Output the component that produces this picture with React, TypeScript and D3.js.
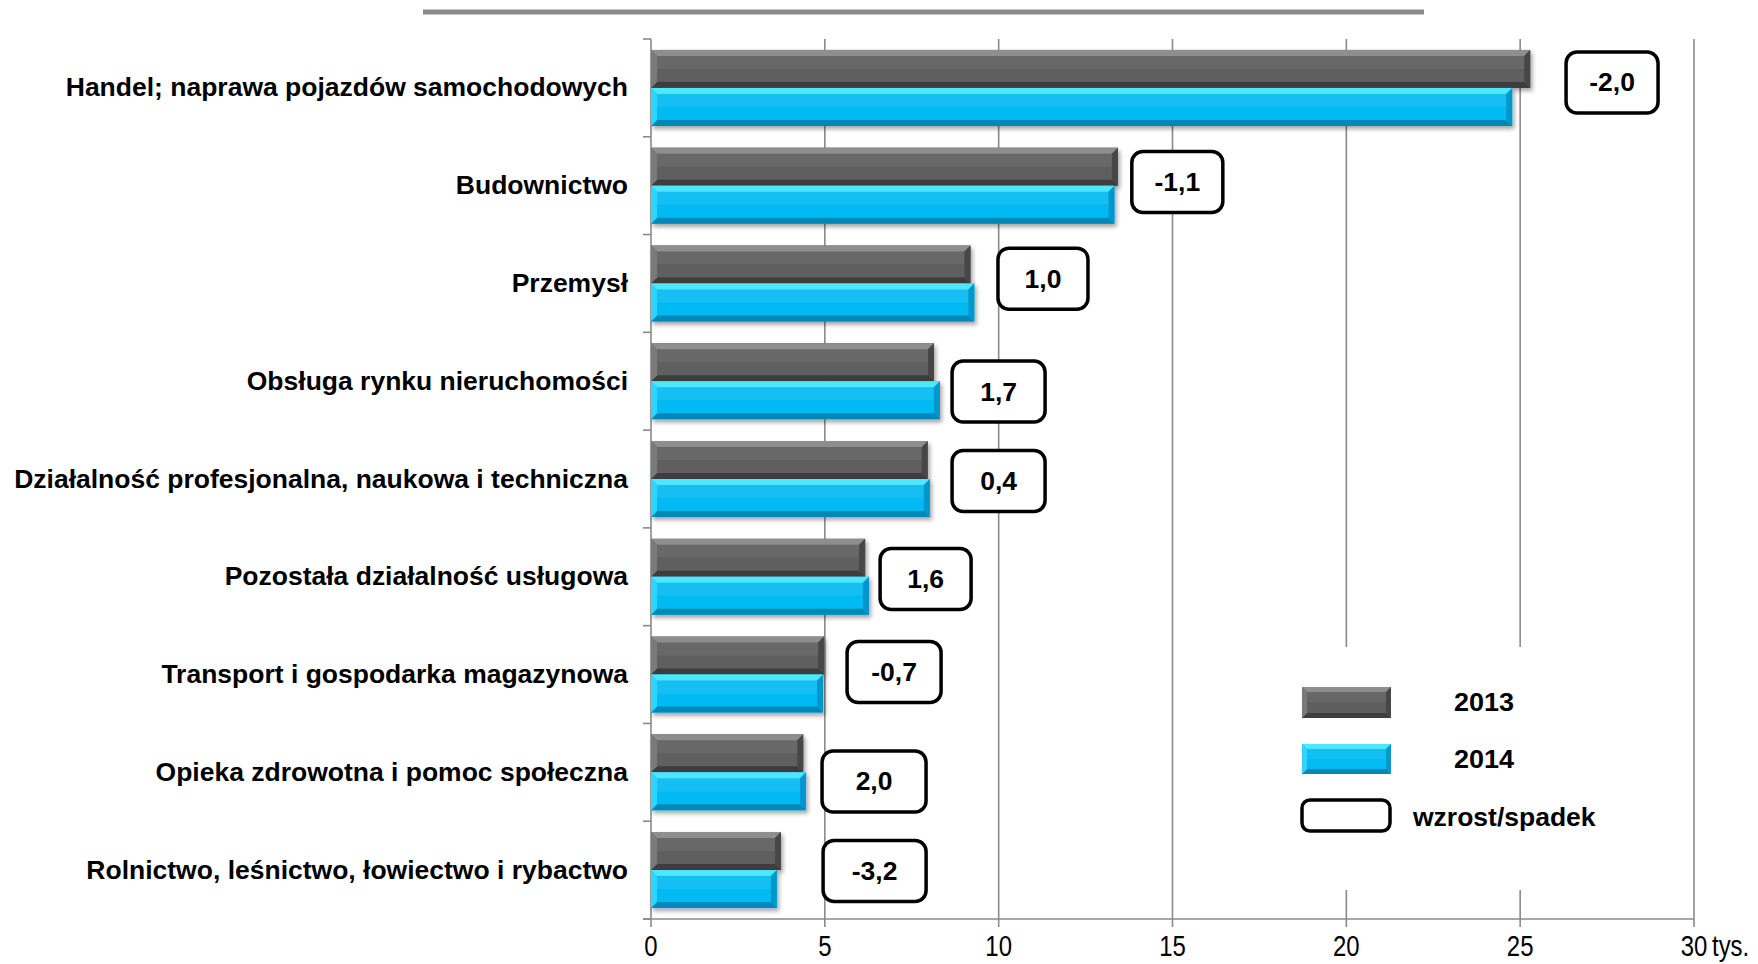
import React from "react";
import * as d3 from "d3";

const categories = [
  "Handel; naprawa pojazdów samochodowych",
  "Budownictwo",
  "Przemysł",
  "Obsługa rynku nieruchomości",
  "Działalność profesjonalna, naukowa i techniczna",
  "Pozostała działalność usługowa",
  "Transport i gospodarka magazynowa",
  "Opieka zdrowotna i pomoc społeczna",
  "Rolnictwo, leśnictwo, łowiectwo i rybactwo",
];
const values2013 = [25.29, 13.43, 9.19, 8.14, 7.96, 6.16, 4.98, 4.38, 3.74];
const values2014 = [24.77, 13.33, 9.3, 8.31, 8.02, 6.27, 4.95, 4.46, 3.62];
const changeLabels = ["-2,0", "-1,1", "1,0", "1,7", "0,4", "1,6", "-0,7", "2,0", "-3,2"];
const seriesNames = ["2013", "2014"];
const xTicks = [0, 5, 10, 15, 20, 25, 30];
const unitLabel = "tys.";
const legendBoxLabel = "wzrost/spadek";

// annotation placement (data units along x, pixel nudge along y, box width)
const labelAt = [26.32, 13.83, 9.98, 8.66, 8.66, 6.59, 5.64, 4.92, 4.95];
const labelDy = [-5.4, -3.7, -4.8, 10.3, 2, 2.2, -2.6, 9.1, 0.9];
const labelW = [92, 91, 90, 93, 93, 91, 94, 104, 103];

const W = 1758;
const H = 964;
const FONT = "'Liberation Sans', Arial, Helvetica, sans-serif";
const SX = 1.06;
const GRID = "#8a8a8a";

const palettes: Record<string, any> = {
  "2013": { base: "#5e5e5e", top: "#8e8e8e", bottom: "#3e3e3e", left: "#7a7a7a", right: "#474747" },
  "2014": { base: "#04bbf3", top: "#4fe6ff", bottom: "#0589b8", left: "#33d3ff", right: "#0698cc" },
};

function BevelBar({ x, y, w, h, pal, b = 6, shadow = true }: any) {
  const x1 = x + w;
  const y1 = y + h;
  const bb = Math.min(b, w / 2, h / 2);
  return (
    <g filter={shadow ? "url(#shadow)" : undefined}>
      <rect x={x} y={y} width={w} height={h} fill={pal.base} />
      <polygon points={`${x},${y} ${x1},${y} ${x1 - bb},${y + bb} ${x + bb},${y + bb}`} fill={pal.top} />
      <polygon points={`${x},${y1} ${x1},${y1} ${x1 - bb},${y1 - bb} ${x + bb},${y1 - bb}`} fill={pal.bottom} />
      <polygon points={`${x},${y} ${x + bb},${y + bb} ${x + bb},${y1 - bb} ${x},${y1}`} fill={pal.left} />
      <polygon points={`${x1},${y} ${x1 - bb},${y + bb} ${x1 - bb},${y1 - bb} ${x1},${y1}`} fill={pal.right} />
      <rect x={x + bb} y={y + bb} width={Math.max(0, w - 2 * bb)} height={Math.max(0, h - 2 * bb) / 2} fill="#ffffff" opacity={0.06} />
    </g>
  );
}

function SText({ x, y, anchor = "start", size = 25, weight = "bold", sx = SX, sy = 1, children }: any) {
  return (
    <text
      transform={`translate(${x},${y}) scale(${sx},${sy})`}
      textAnchor={anchor}
      fontFamily={FONT}
      fontSize={size}
      fontWeight={weight}
      fill="#000"
    >
      {children}
    </text>
  );
}

export default function App() {
  const x = d3.scaleLinear().domain([0, 30]).range([651, 1694]);
  const y = d3.scaleBand<string>().domain(categories).range([39, 919]).padding(0);
  const sub = d3.scaleBand<string>().domain(seriesNames).range([0, y.step()]).paddingInner(0).paddingOuter(0.287);
  const series = [values2013, values2014];
  const boxH = 61;
  const tickY = 956;

  return (
    <svg width={W} height={H} style={{ position: "absolute", left: 0, top: 0, background: "#fff" }}>
      <defs>
        <filter id="shadow" x="-5%" y="-20%" width="110%" height="160%">
          <feDropShadow dx="2" dy="3" stdDeviation="2" floodColor="#000" floodOpacity="0.35" />
        </filter>
      </defs>
      <rect x={0} y={0} width={W} height={H} fill="#fff" />

      {/* top decorative line */}
      <rect x={423} y={9.5} width={1001} height={5} fill="#8a8a8a" />

      {/* gridlines */}
      {xTicks.slice(1).map((t) => (
        <line key={"g" + t} x1={x(t)} x2={x(t)} y1={y.range()[0]} y2={y.range()[1]} stroke={GRID} strokeWidth={1.6} />
      ))}

      {/* axes */}
      <line x1={x(0)} x2={x(0)} y1={y.range()[0]} y2={y.range()[1]} stroke={GRID} strokeWidth={1.6} />
      <line x1={x(0) - 8} x2={x(30)} y1={y.range()[1]} y2={y.range()[1]} stroke={GRID} strokeWidth={1.6} />
      {d3.range(categories.length + 1).map((i) => {
        const yy = y.range()[0] + i * y.step();
        return <line key={"yt" + i} x1={x(0) - 8} x2={x(0)} y1={yy} y2={yy} stroke={GRID} strokeWidth={1.6} />;
      })}
      {xTicks.map((t) => (
        <line key={"xt" + t} x1={x(t)} x2={x(t)} y1={y.range()[1]} y2={y.range()[1] + 8} stroke={GRID} strokeWidth={1.6} />
      ))}

      {/* tick labels */}
      {xTicks.map((t) => (
        <SText key={"xl" + t} x={x(t)} y={tickY} anchor="middle" size={26} weight="normal" sx={0.92} sy={1.15}>
          {String(t)}
        </SText>
      ))}
      <SText x={x(30) + 18} y={tickY} anchor="start" size={26} weight="normal" sx={0.92} sy={1.15}>
        {unitLabel}
      </SText>

      {/* legend background (covers gridlines) */}
      <rect x={1292} y={647} width={390} height={243} fill="#fff" />

      {/* bars */}
      {categories.map((c, i) => (
        <g key={"b" + i}>
          {seriesNames.map((s, k) => (
            <BevelBar
              key={s}
              x={x(0)}
              y={(y(c) as number) + (sub(s) as number)}
              w={x(series[k][i]) - x(0)}
              h={sub.bandwidth()}
              pal={palettes[s]}
            />
          ))}
        </g>
      ))}

      {/* category labels */}
      {categories.map((c) => (
        <SText key={"cl" + c} x={628} y={(y(c) as number) + y.step() / 2 + 8.5} anchor="end">
          {c}
        </SText>
      ))}

      {/* change boxes */}
      {categories.map((c, i) => {
        const cy = (y(c) as number) + y.step() / 2 + labelDy[i];
        const bx = x(labelAt[i]);
        return (
          <g key={"cb" + i}>
            <rect x={bx} y={cy - boxH / 2} width={labelW[i]} height={boxH} rx={11} ry={11} fill="#fff" stroke="#000" strokeWidth={3.5} />
            <SText x={bx + labelW[i] / 2} y={cy + 9} anchor="middle" sy={1.05}>
              {changeLabels[i]}
            </SText>
          </g>
        );
      })}

      {/* legend */}
      <BevelBar x={1302} y={687} w={89} h={31} pal={palettes["2013"]} b={5} shadow={false} />
      <BevelBar x={1302} y={744} w={89} h={30} pal={palettes["2014"]} b={5} shadow={false} />
      <rect x={1302} y={800} width={88} height={31} rx={8} ry={8} fill="#fff" stroke="#000" strokeWidth={3.5} />
      <SText x={1454} y={711} sx={1.08}>{seriesNames[0]}</SText>
      <SText x={1454} y={768} sx={1.08}>{seriesNames[1]}</SText>
      <SText x={1413} y={826} sx={1.06}>{legendBoxLabel}</SText>
    </svg>
  );
}
